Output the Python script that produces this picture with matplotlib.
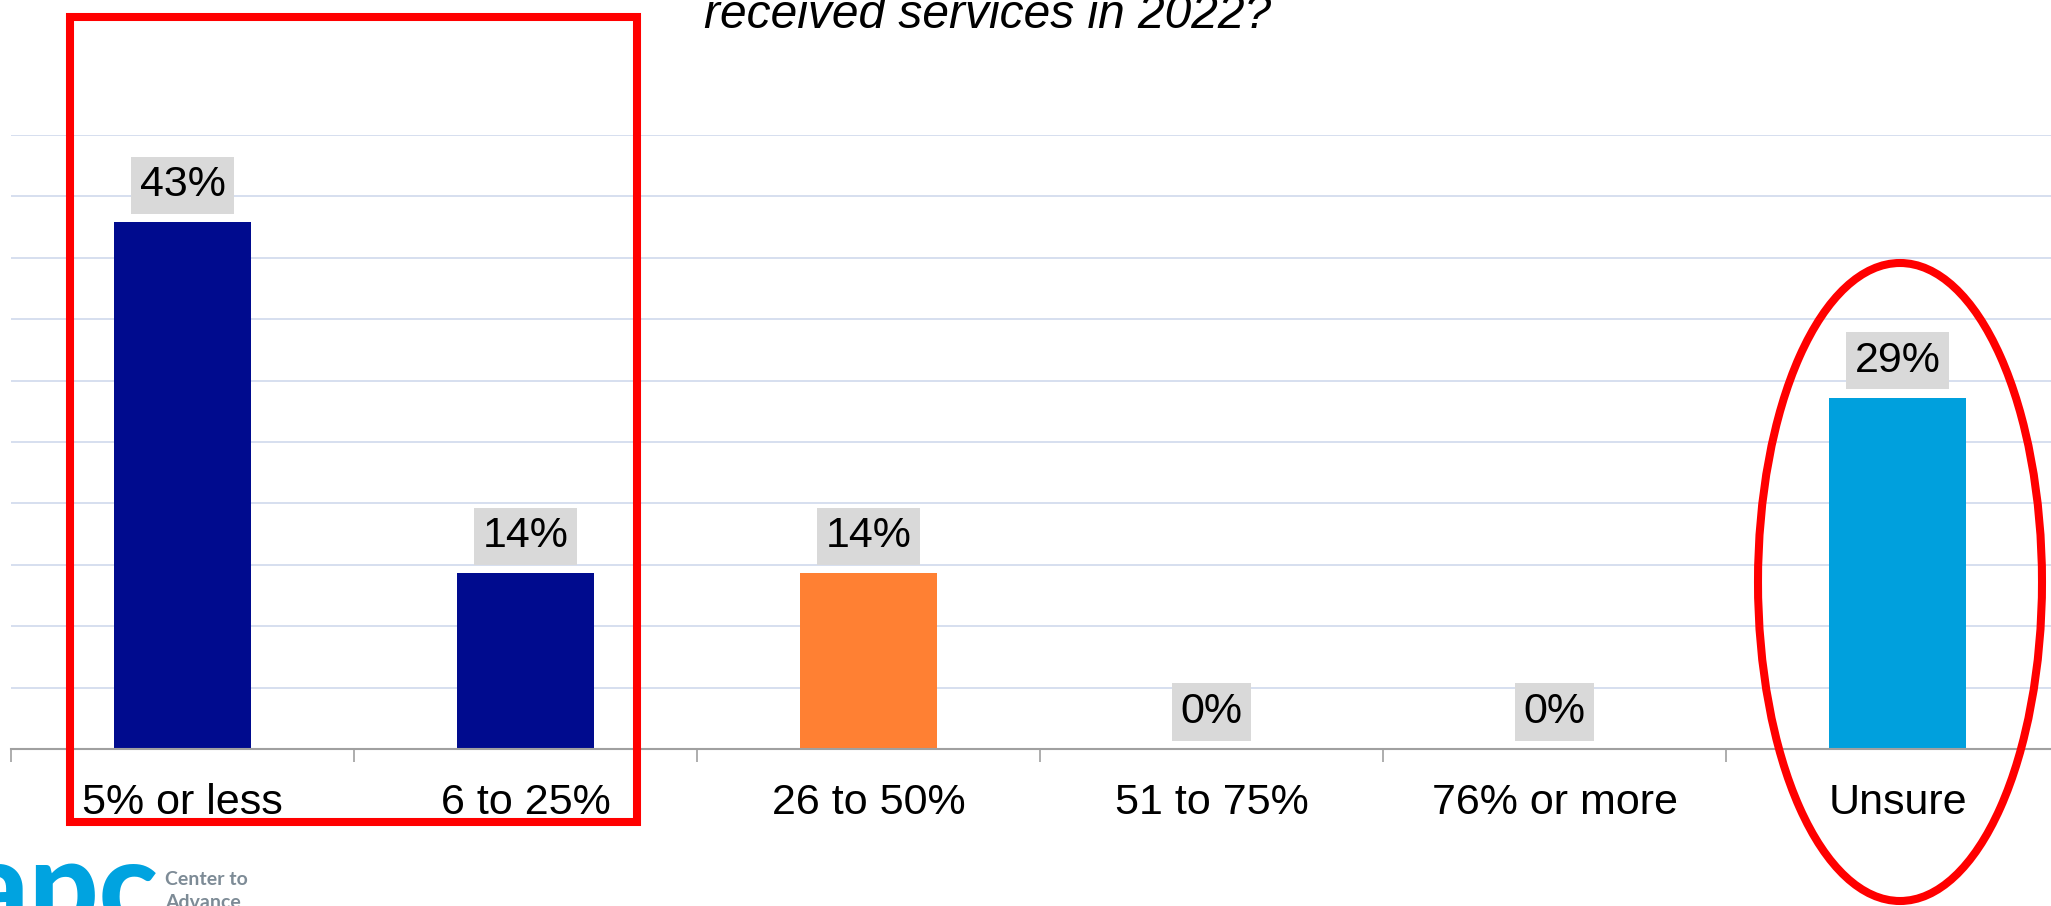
import matplotlib
matplotlib.use("Agg")
import matplotlib.pyplot as plt
from matplotlib.patches import Rectangle, Ellipse

# ---- data ----
categories = ["5% or less", "6 to 25%", "26 to 50%", "51 to 75%", "76% or more", "Unsure"]
values = [42.9, 14.3, 14.3, 0.0, 0.0, 28.6]
labels = ["43%", "14%", "14%", "0%", "0%", "29%"]
bar_colors = ["#000B8E", "#000B8E", "#FF8033", "#000B8E", "#000B8E", "#00A0DD"]
title_text = "received services in 2022?"
grid_levels = [5, 10, 15, 20, 25, 30, 35, 40, 45, 50]

W, H = 2051, 906
fig = plt.figure(figsize=(W / 100, H / 100), dpi=100)
fig.patch.set_facecolor("white")

def fx(px):
    return px / W

def fy(py):
    return (H - py) / H

# axes: x from 11 px spanning 6 categories of 343 px; y baseline 749 px, 50% at 135 px
ax_left, ax_right = 11, 11 + 6 * 343
ax_bottom, ax_top = 749, 135
ax = fig.add_axes([fx(ax_left), fy(ax_bottom), (ax_right - ax_left) / W, (ax_bottom - ax_top) / H])
ax.set_xlim(-0.5, len(categories) - 0.5)
ax.set_ylim(0, 50)
ax.set_facecolor("none")

for g in grid_levels:
    ax.axhline(g, color="#D6DFEF", lw=1.4, zorder=0)

x = list(range(len(categories)))
ax.bar(x, values, width=0.4, color=bar_colors, zorder=2)

for s in ["top", "left", "right"]:
    ax.spines[s].set_visible(False)
ax.spines["bottom"].set_color("#A0A0A0")
ax.spines["bottom"].set_linewidth(1.5)
ax.set_yticks([])
ax.set_xticks([])
ax.set_xticks([i - 0.5 for i in range(len(categories) + 1)], minor=True)
ax.tick_params(axis="x", which="minor", length=9.5, width=1.2, color="#A0A0A0", direction="out")

font = "Liberation Sans"
for i, (v, lab) in enumerate(zip(values, labels)):
    ax.annotate(lab, (i, v), xytext=(0, 26.6), textcoords="offset points",
                ha="center", va="center", fontsize=31, family=font, color="black",
                bbox=dict(boxstyle="square,pad=0.2", fc="#D9D9D9", ec="none"), zorder=3)

for i, c in enumerate(categories):
    ax.text(i, -65 / 12.28, c, ha="center", va="baseline", fontsize=31, family=font,
            color="black", clip_on=False)

# title (second line of question, first line off canvas)
fig.text(fx(988), fy(28), title_text, ha="center", va="baseline", fontsize=34.5,
         family=font, style="italic", color="black")

# red highlight rectangle
rx0, rx1, ry0, ry1 = 70, 637, 17, 822
fig.patches.append(Rectangle((fx(rx0), fy(ry1)), fx(rx1) - fx(rx0), fy(ry0) - fy(ry1),
                             transform=fig.transFigure, fill=False, ec="#FF0000", lw=5.8,
                             joinstyle="miter", zorder=10))

# red ellipse
fig.patches.append(Ellipse((fx(1900), fy(582)), 284 / W, 638 / H, transform=fig.transFigure,
                           fill=False, ec="#FF0000", lw=5.8, zorder=10))

# logo (partially cut off)
fig.text(fx(158), fy(928), "capc", ha="right", va="baseline", fontsize=88,
         family=["Lato", "DejaVu Sans"], fontweight="black", color="#00A3E0")
fig.text(fx(165), fy(885), "Center to", ha="left", va="baseline", fontsize=14,
         family=["Lato", "DejaVu Sans"], fontweight="bold", color="#7D8B96")
fig.text(fx(165), fy(908), "Advance", ha="left", va="baseline", fontsize=14,
         family=["Lato", "DejaVu Sans"], fontweight="bold", color="#7D8B96")

fig.savefig("out.png", dpi=100)
